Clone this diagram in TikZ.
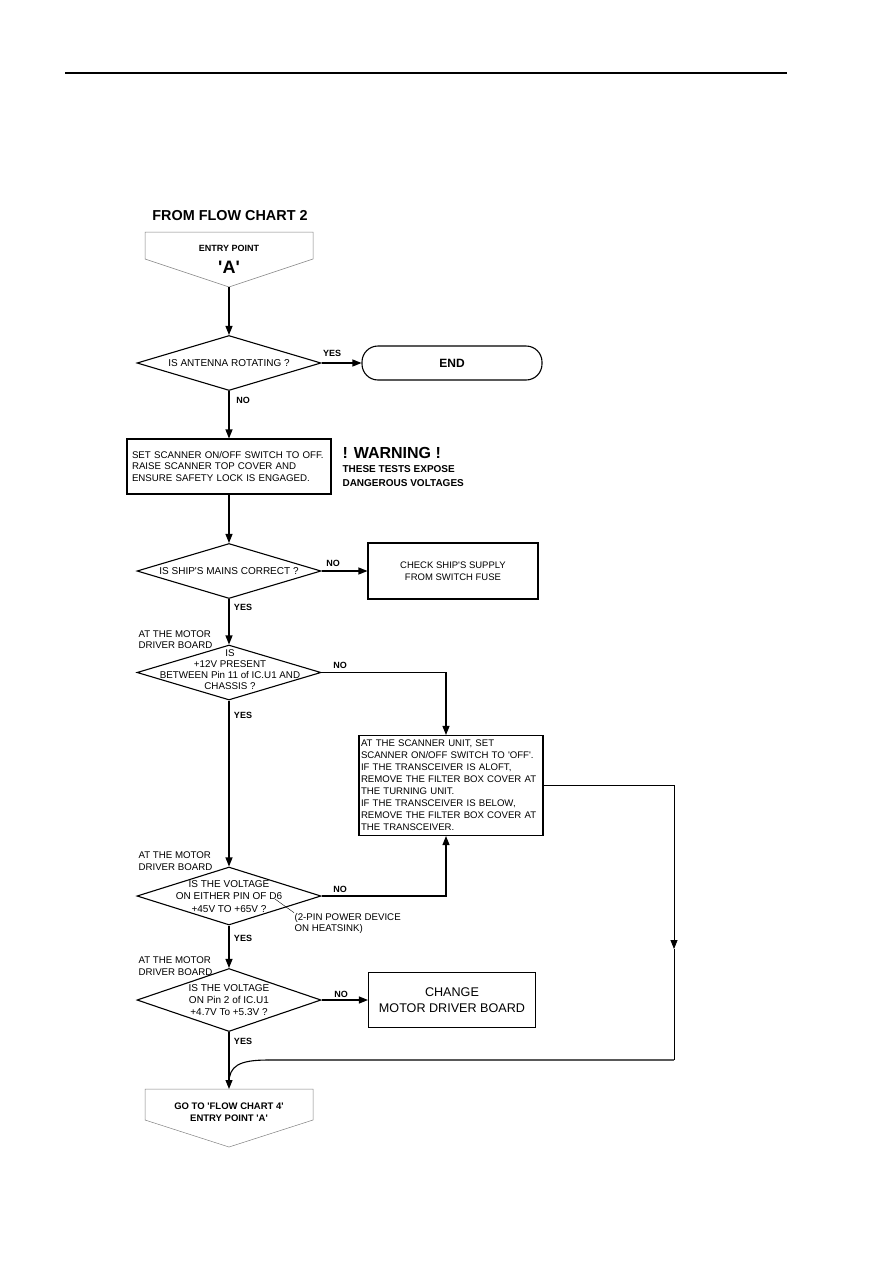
\documentclass[tikz,border=0pt]{standalone}
\usepackage{fontspec}
\setmainfont{Liberation Sans}
\usetikzlibrary{arrows.meta,shapes.geometric}
\newcommand{\sq}{\textquotesingle}

\begin{document}
\begin{tikzpicture}[x=1pt, y=-1pt, line width=1.1pt,
    font=\fontsize{10}{12}\selectfont,
    >={Triangle[length=9pt,width=7pt]},
    decision/.style={diamond, draw, minimum width=184pt, minimum height=55pt, inner sep=0pt},
    qtext/.style={align=center, inner sep=0pt},
    actbox/.style={rectangle, draw, inner xsep=5pt, inner ysep=0pt},
    yesno/.style={font=\fontsize{9}{10}\selectfont\bfseries, inner sep=0pt},
    where/.style={align=left, anchor=west, inner sep=0pt, font=\fontsize{9.7}{11.5}\selectfont},
    portline/.style={draw=gray, line width=0.5pt}]
        \useasboundingbox (0,0) rectangle (893,1263);
        \draw[line width=1.2pt] (65,73) -- (787,73);
        \node[font=\fontsize{14.4}{16}\selectfont\bfseries] (fromtxt) at (230,216) {FROM FLOW CHART 2};
        \draw[portline] (145,232) -- (313,232) -- (313,259) -- (229,287) -- (145,259) -- cycle;
        \node[font=\fontsize{9}{10}\selectfont\bfseries] (entrytxt) at (229,248) {ENTRY POINT};
        \node[font=\fontsize{18}{20}\selectfont\bfseries] (entrya) at (229,267) {\sq A\sq};
        \coordinate (entrytip) at (229,287);
        \node[decision] (isrot) at (229,363) {};
        \node[qtext] (isrottxt) at (229,363) {IS ANTENNA ROTATING ?};
        \node[draw, rounded corners=16pt, minimum width=180pt, minimum height=34pt,
          font=\fontsize{12}{14}\selectfont\bfseries] (endbox) at (452,363) {END};
        \node[actbox, text width=194pt, minimum height=55pt, align=left,
          font=\fontsize{9.7}{11.5}\selectfont] (offsw) at (229,466.5)
          {SET SCANNER ON/OFF SWITCH TO OFF.\\RAISE SCANNER TOP COVER AND\\ENSURE SAFETY LOCK IS ENGAGED.};
        \node[anchor=west, inner sep=0pt, font=\fontsize{16}{18}\selectfont\bfseries] (warn) at (342,453) {! WARNING !};
        \node[anchor=west, align=left, inner sep=0pt, font=\fontsize{10}{14}\selectfont\bfseries] (warntxt) at (342,476)
          {THESE TESTS EXPOSE\\DANGEROUS VOLTAGES};
        \node[decision] (mains) at (229,571) {};
        \node[qtext] (mainstxt) at (229,571) {IS SHIP\sq S MAINS CORRECT ?};
        \node[actbox, minimum width=170pt, minimum height=56pt, align=center,
          font=\fontsize{9.5}{12}\selectfont] (supply) at (453,571) {CHECK SHIP\sq S SUPPLY\\FROM SWITCH FUSE};
        \node[where] (board1) at (138,639.5) {AT THE MOTOR\\DRIVER BOARD};
        \node[decision] (v12) at (229,672.5) {};
        \node[qtext, font=\fontsize{9.8}{11}\selectfont] (v12txt) at (230,669.5)
          {IS\\+12V PRESENT\\BETWEEN Pin 11 of IC.U1 AND\\CHASSIS ?};
        \node[actbox, text width=180pt, inner xsep=2pt, minimum height=100pt, align=left,
          font=\fontsize{9.6}{12}\selectfont] (scanbox) at (451,785.5)
          {AT THE SCANNER UNIT, SET\\SCANNER ON/OFF SWITCH TO \sq OFF\sq .\\IF THE TRANSCEIVER IS ALOFT,\\REMOVE THE FILTER BOX COVER AT\\THE TURNING UNIT.\\IF THE TRANSCEIVER IS BELOW,\\REMOVE THE FILTER BOX COVER AT\\THE TRANSCEIVER.};
        \node[where] (board2) at (138,861) {AT THE MOTOR\\DRIVER BOARD};
        \node[decision, minimum height=58pt] (d6) at (229,896) {};
        \node[qtext, font=\fontsize{10}{12.5}\selectfont] (d6txt) at (229,896.5)
          {IS THE VOLTAGE\\ON EITHER PIN OF D6\\+45V TO +65V ?};
        \node[anchor=west, align=left, inner sep=0pt, font=\fontsize{9.7}{11.5}\selectfont] (heatsink) at (294,923.5)
          {(2-PIN POWER DEVICE\\ON HEATSINK)};
        \draw[line width=0.4pt] (275,899) -- (heatsink.north west);
        \node[where] (board3) at (138,966) {AT THE MOTOR\\DRIVER BOARD};
        \node[decision, minimum height=63pt] (u1) at (229,1000) {};
        \node[qtext] (u1txt) at (229,1000) {IS THE VOLTAGE\\ON Pin 2 of IC.U1\\+4.7V To +5.3V ?};
        \node[actbox, minimum width=167pt, minimum height=55pt, align=center,
          font=\fontsize{12.6}{15.5}\selectfont] (change) at (452,1000) {CHANGE\\MOTOR DRIVER BOARD};
        \draw[portline] (145,1089) -- (313,1089) -- (313,1120) -- (229,1147) -- (145,1120) -- cycle;
        \node[qtext, font=\fontsize{9.5}{12}\selectfont\bfseries] (exittxt) at (229,1112)
          {GO TO \sq FLOW CHART 4\sq\\ENTRY POINT \sq A\sq};
        \coordinate (exittop) at (229,1089);
        \node[yesno] (yes1) at (332,353) {YES};
        \node[yesno] (no1) at (243,400) {NO};
        \node[yesno] (no2) at (333,563) {NO};
        \node[yesno] (yes2) at (243,607) {YES};
        \node[yesno] (no3) at (340,665) {NO};
        \node[yesno] (yes3) at (243,715) {YES};
        \node[yesno] (no4) at (340,889) {NO};
        \node[yesno] (yes4) at (243,938) {YES};
        \node[yesno] (no5) at (341,994) {NO};
        \node[yesno] (yes5) at (243,1041) {YES};
        \coordinate (rtop) at (674,785.5);
        \coordinate (rmid) at (674,949);
        \coordinate (rbot) at (674,1060);
        \coordinate (bend) at (268,1060);
        \coordinate (join) at (229,1083);
        \draw[->] (entrytip) -- (isrot.north);
        \draw[->] (isrot.east) -- (endbox.west);
        \draw[->] (isrot.south) -- (offsw.north);
        \draw[->] (offsw.south) -- (mains.north);
        \draw[->] (mains.east) -- (supply.west);
        \draw[->] (mains.south) -- (v12.north);
        \draw[->] (v12.east) -| ([xshift=-5pt]scanbox.north);
        \draw[->] (v12.south) -- (d6.north);
        \draw[->] (d6.east) -| ([xshift=-5pt]scanbox.south);
        \draw[->] (d6.south) -- (u1.north);
        \draw[->] (u1.east) -- (change.west);
        \draw[->] (u1.south) -- (exittop);
        \draw[->, line width=0.8pt] (scanbox.east) -- (rtop) -- (rmid);
        \draw[line width=0.8pt] (rmid) -- (rbot);
        \draw[line width=1.5pt, black!65] (rbot) -- (bend);
        \draw (bend) .. controls (239,1060) and (229,1066) .. (join);
\end{tikzpicture}
\end{document}
